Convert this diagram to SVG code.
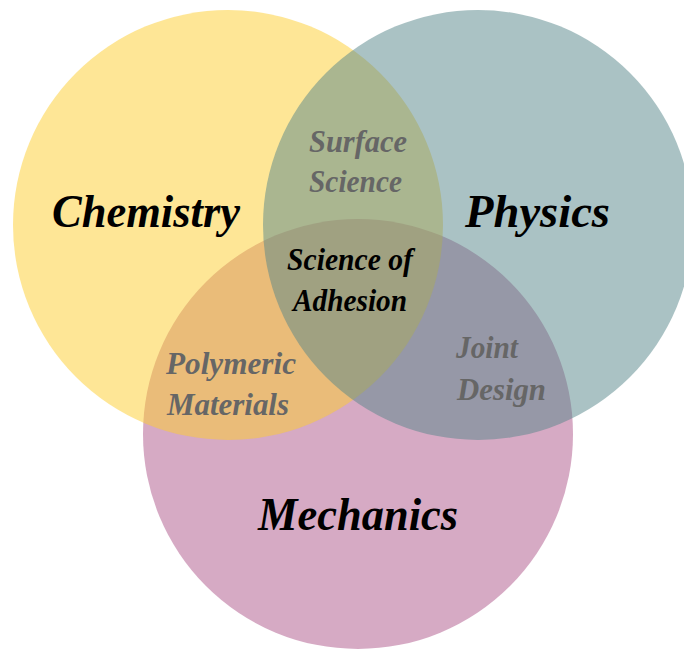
<svg xmlns="http://www.w3.org/2000/svg" width="684" height="649" viewBox="0 0 684 649">
  <style>
    .lbl { font-family: "Liberation Serif", "DejaVu Serif", serif; font-weight: bold; font-style: italic; }
    .main { font-size: 46px; fill: #000000; }
    .sub { font-size: 31px; fill: #666666; }
    .core { font-size: 31px; fill: #000000; }
    .circ { opacity: 0.5; }
  </style>
  <rect width="684" height="649" fill="#ffffff"/>
  <g id="mechanics">
    <circle class="circ" cx="358" cy="434" r="215" fill="#AD5589"/>
    <text class="lbl main" x="258" y="530" textLength="200" lengthAdjust="spacingAndGlyphs">Mechanics</text>
  </g>
  <g id="chemistry">
    <circle class="circ" cx="228" cy="225" r="215" fill="#FDCD2D"/>
    <text class="lbl main" x="52" y="227" textLength="188" lengthAdjust="spacingAndGlyphs">Chemistry</text>
  </g>
  <g id="physics">
    <circle class="circ" cx="478" cy="225" r="215" fill="#558589"/>
    <text class="lbl main" x="465" y="227" textLength="145" lengthAdjust="spacingAndGlyphs">Physics</text>
  </g>
  <g id="surface-science">
    <text class="lbl sub" x="309" y="152" textLength="98" lengthAdjust="spacingAndGlyphs">Surface</text>
    <text class="lbl sub" x="309" y="192" textLength="93" lengthAdjust="spacingAndGlyphs">Science</text>
  </g>
  <g id="science-of-adhesion">
    <text class="lbl core" x="287" y="270" textLength="126" lengthAdjust="spacingAndGlyphs">Science of</text>
    <text class="lbl core" x="293" y="311" textLength="114" lengthAdjust="spacingAndGlyphs">Adhesion</text>
  </g>
  <g id="polymeric-materials">
    <text class="lbl sub" x="166" y="374" textLength="130" lengthAdjust="spacingAndGlyphs">Polymeric</text>
    <text class="lbl sub" x="167" y="415" textLength="122" lengthAdjust="spacingAndGlyphs">Materials</text>
  </g>
  <g id="joint-design">
    <text class="lbl sub" x="456" y="358" textLength="62" lengthAdjust="spacingAndGlyphs">Joint</text>
    <text class="lbl sub" x="457" y="400" textLength="89" lengthAdjust="spacingAndGlyphs">Design</text>
  </g>
</svg>
